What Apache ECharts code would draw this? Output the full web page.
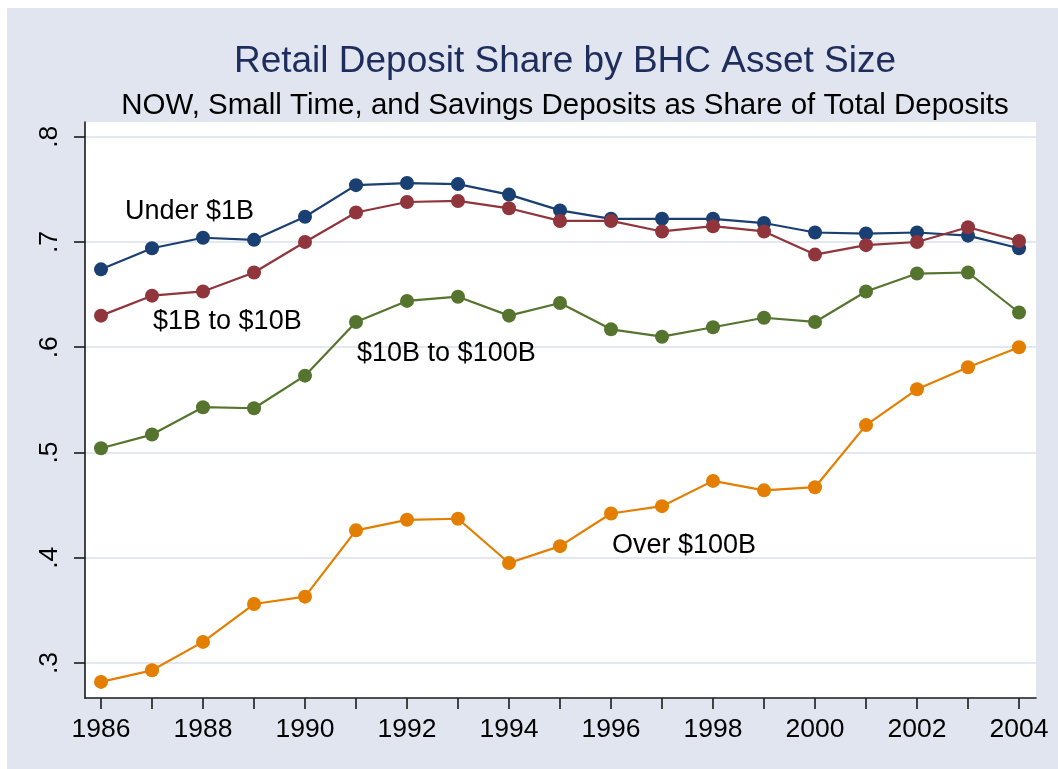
<!DOCTYPE html>
<html>
<head>
<meta charset="utf-8">
<script src="https://cdn.jsdelivr.net/npm/echarts@6/dist/echarts.min.js"></script>
<style>
  html, body { margin: 0; padding: 0; background: #fff; }
  #chart { position: absolute; left: 7px; top: 8px; width: 1051px; height: 761px; }
</style>
</head>
<body>
<div id="chart"></div>
<script>
const years = [1986, 1987, 1988, 1989, 1990, 1991, 1992, 1993, 1994, 1995, 1996, 1997, 1998, 1999, 2000, 2001, 2002, 2003, 2004];
const yearLabels = [1986, 1988, 1990, 1992, 1994, 1996, 1998, 2000, 2002, 2004];
const yTicks = [0.3, 0.4, 0.5, 0.6, 0.7, 0.8];

const under1B = [0.674, 0.694, 0.704, 0.702, 0.724, 0.754, 0.756, 0.755, 0.745, 0.730, 0.722, 0.722, 0.722, 0.718, 0.709, 0.708, 0.709, 0.706, 0.694];
const b1to10 = [0.630, 0.649, 0.653, 0.671, 0.700, 0.728, 0.738, 0.739, 0.732, 0.720, 0.720, 0.710, 0.715, 0.710, 0.688, 0.697, 0.700, 0.714, 0.701];
const b10to100 = [0.504, 0.517, 0.543, 0.542, 0.573, 0.624, 0.644, 0.648, 0.630, 0.642, 0.617, 0.610, 0.619, 0.628, 0.624, 0.653, 0.670, 0.671, 0.633];
const over100B = [0.282, 0.293, 0.320, 0.356, 0.363, 0.426, 0.436, 0.437, 0.395, 0.411, 0.442, 0.449, 0.473, 0.464, 0.467, 0.526, 0.560, 0.581, 0.600];

const FONT = '"Liberation Sans", Arial, sans-serif';

function makeSeries(name, values, color, labelAt) {
  return {
    name: name,
    type: 'line',
    data: years.map((y, i) => [y, values[i]]),
    symbol: 'circle',
    symbolSize: 14,
    itemStyle: { color: color },
    lineStyle: { color: color, width: 2.2 },
    markPoint: {
      symbol: 'circle',
      symbolSize: 0,
      silent: true,
      label: {
        show: true,
        position: 'right',
        distance: 0,
        formatter: name,
        color: '#000',
        fontFamily: FONT,
        fontSize: 27
      },
      data: [{ coord: labelAt }]
    }
  };
}

const chart = echarts.init(document.getElementById('chart'));
chart.setOption({
  backgroundColor: '#e1e5ef',
  animation: false,
  title: [
    {
      text: 'Retail Deposit Share by BHC Asset Size',
      left: 553,
      top: 30,
      textAlign: 'center',
      textStyle: { color: '#1e2d5c', fontFamily: FONT, fontSize: 37, fontWeight: 'normal' }
    },
    {
      text: 'NOW, Small Time, and Savings Deposits as Share of Total Deposits',
      left: 553,
      top: 78,
      textAlign: 'center',
      textStyle: { color: '#000', fontFamily: FONT, fontSize: 29.5, fontWeight: 'normal' }
    }
  ],
  grid: {
    left: 78, right: 22, top: 114, bottom: 71,
    show: true, backgroundColor: '#fff', borderWidth: 0
  },
  xAxis: {
    type: 'value',
    min: 1985.686,
    max: 2004.333,
    axisLine: { show: true, lineStyle: { color: '#1a1a1a', width: 1.6 } },
    axisTick: { show: true, length: 11, customValues: years, lineStyle: { color: '#1a1a1a', width: 1.6 } },
    axisLabel: {
      customValues: yearLabels,
      formatter: v => String(v),
      color: '#000', fontFamily: FONT, fontSize: 26.5, margin: 18
    },
    splitLine: { show: false }
  },
  yAxis: {
    type: 'value',
    min: 0.2667,
    max: 0.814,
    axisLine: { show: true, lineStyle: { color: '#1a1a1a', width: 1.6 } },
    axisTick: { show: true, length: 11, customValues: yTicks, lineStyle: { color: '#1a1a1a', width: 1.6 } },
    axisLabel: {
      customValues: yTicks,
      rotate: 90,
      formatter: v => v.toFixed(1).replace(/^0/, ''),
      color: '#000', fontFamily: FONT, fontSize: 26.5, margin: 22
    },
    splitLine: { show: true, lineStyle: { color: '#e3e7f0', width: 2 } }
  },
  series: [
    makeSeries('Under $1B', under1B, '#1a3f72', [1986.47, 0.729]),
    makeSeries('$1B to $10B', b1to10, '#90353b', [1987.02, 0.624]),
    makeSeries('$10B to $100B', b10to100, '#55752f', [1991.02, 0.594]),
    makeSeries('Over $100B', over100B, '#e37e00', [1996.02, 0.412])
  ]
});
</script>
</body>
</html>
